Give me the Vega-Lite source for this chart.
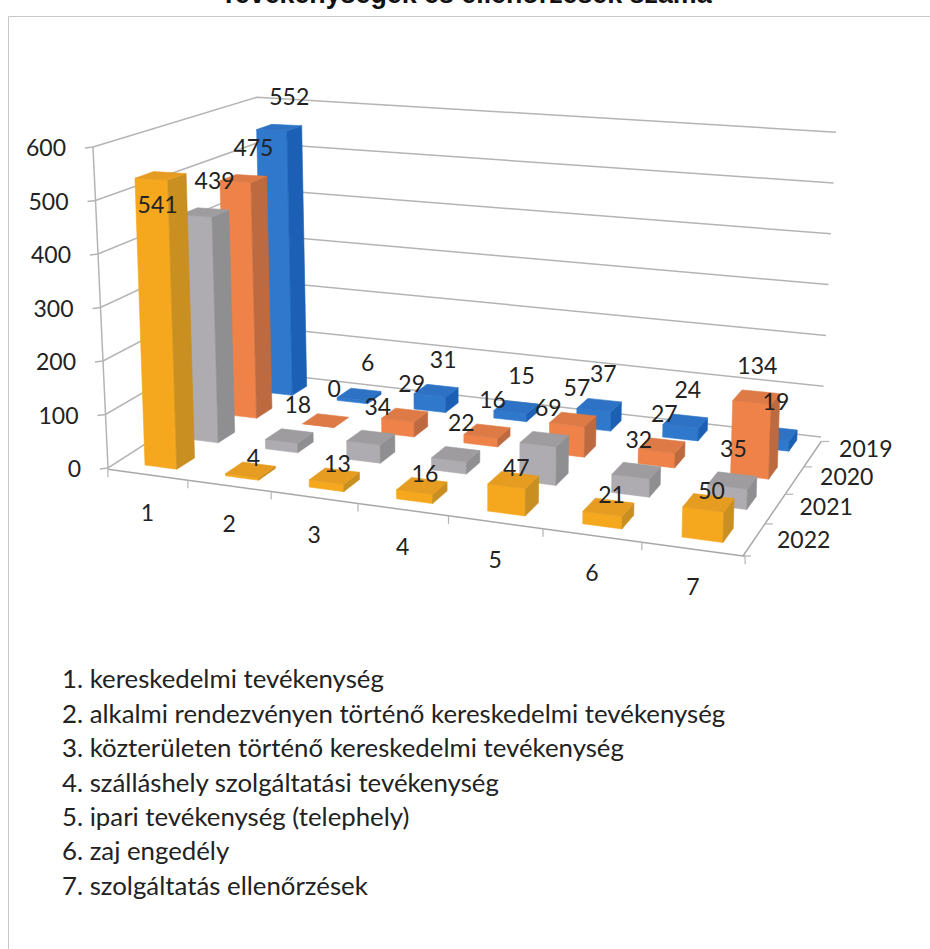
{
"$schema":"https://vega.github.io/schema/vega-lite/v6.json",
"width":922,"height":933,
"autosize":{"type":"none"},
"padding":{"left":8,"top":16,"right":0,"bottom":0},
"background":"white",
"view":{"stroke":"#c8c8c8","strokeWidth":1},
"title":{"text":"Tevékenységek és ellenőrzések száma","font":"Liberation Sans","fontSize":26.8,"fontWeight":"bold","color":"#111","anchor":"middle","baseline":"alphabetic","offset":-14,"dx":-3},
"datasets":{
"bars":[
{"category":1,"year":2019,"value":552},{"category":2,"year":2019,"value":6},{"category":3,"year":2019,"value":31},{"category":4,"year":2019,"value":15},{"category":5,"year":2019,"value":37},{"category":6,"year":2019,"value":24},{"category":7,"year":2019,"value":19},
{"category":1,"year":2020,"value":475},{"category":2,"year":2020,"value":0},{"category":3,"year":2020,"value":29},{"category":4,"year":2020,"value":16},{"category":5,"year":2020,"value":57},{"category":6,"year":2020,"value":27},{"category":7,"year":2020,"value":134},
{"category":1,"year":2021,"value":439},{"category":2,"year":2021,"value":18},{"category":3,"year":2021,"value":34},{"category":4,"year":2021,"value":22},{"category":5,"year":2021,"value":69},{"category":6,"year":2021,"value":32},{"category":7,"year":2021,"value":35},
{"category":1,"year":2022,"value":541},{"category":2,"year":2022,"value":4},{"category":3,"year":2022,"value":13},{"category":4,"year":2022,"value":16},{"category":5,"year":2022,"value":47},{"category":6,"year":2022,"value":21},{"category":7,"year":2022,"value":50}
],
"ticks":[{"v":0},{"v":100},{"v":200},{"v":300},{"v":400},{"v":500},{"v":600}],
"front":[{"k":0},{"k":1},{"k":2},{"k":3},{"k":4},{"k":5},{"k":6},{"k":7}],
"side":[{"k":0},{"k":1},{"k":2},{"k":3},{"k":4}],
"cats":[{"category":1},{"category":2},{"category":3},{"category":4},{"category":5},{"category":6},{"category":7}],
"years":[{"year":2019},{"year":2020},{"year":2021},{"year":2022}],
"notes":[
{"n":1,"t":"1. kereskedelmi tevékenység"},
{"n":2,"t":"2. alkalmi rendezvényen történő kereskedelmi tevékenység"},
{"n":3,"t":"3. közterületen történő kereskedelmi tevékenység"},
{"n":4,"t":"4. szálláshely szolgáltatási tevékenység"},
{"n":5,"t":"5. ipari tevékenység (telephely)"},
{"n":6,"t":"6. zaj engedély"},
{"n":7,"t":"7. szolgáltatás ellenőrzések"}
]},
"encoding":{
"x":{"field":"X","type":"quantitative","axis":null,"scale":{"domain":[8,930],"nice":false,"zero":false}},
"y":{"field":"Y","type":"quantitative","axis":null,"scale":{"domain":[949,16],"nice":false,"zero":false}}
},
"layer":[
{"data":{"name":"ticks"},
 "transform":[
 {"calculate":"[0,1,2,3]","as":"c"},{"flatten":["c"]},
 {"calculate":"datum.c==0?100-0.025*datum.v:datum.c==1?108-0.025*datum.v:datum.c==2?257:821+0.025*datum.v","as":"X"},
 {"calculate":"datum.c==0?469-0.535*datum.v:datum.c==1?468-0.535*datum.v:datum.c==2?372-0.458*datum.v:437-0.508*datum.v","as":"Y"}],
 "mark":{"type":"line","color":"#b4b4b4","strokeWidth":1.5},
 "encoding":{"detail":{"field":"v"},"order":{"field":"c"}}},
{"data":{"name":"ticks"},
 "transform":[{"calculate":"108-0.025*datum.v","as":"X"},{"calculate":"468-0.535*datum.v","as":"Y"}],
 "mark":{"type":"line","color":"#b4b4b4","strokeWidth":1.5},
 "encoding":{"order":{"field":"v"}}},
{"data":{"name":"front"},
 "transform":[
 {"calculate":"datum.k-0.33","as":"I"},
 {"calculate":"1-0.1185*datum.I/6+0.1151*(-0.25)/3","as":"w"},
 {"calculate":"(456.2*datum.I/6+148.3*(-0.25)/3+145)/datum.w","as":"X"},
 {"calculate":"(8.4*datum.I/6-27.9*(-0.25)/3+466)/datum.w","as":"Y"}],
 "mark":{"type":"line","color":"#a8a8a8","strokeWidth":1.5},
 "encoding":{"order":{"field":"k"}}},
{"data":{"name":"front"},
 "transform":[
 {"calculate":"datum.k-0.33","as":"I"},
 {"calculate":"1-0.1185*datum.I/6+0.1151*(-0.25)/3","as":"w"},
 {"calculate":"(456.2*datum.I/6+148.3*(-0.25)/3+145)/datum.w","as":"X"},
 {"calculate":"(8.4*datum.I/6-27.9*(-0.25)/3+466)/datum.w","as":"Y"},
 {"calculate":"datum.Y+8","as":"Y2"}],
 "mark":{"type":"rule","color":"#b4b4b4","strokeWidth":1.2},
 "encoding":{"y2":{"field":"Y2"}}},
{"data":{"name":"side"},
 "transform":[
 {"calculate":"-0.25+0.9375*datum.k","as":"D"},
 {"calculate":"1-0.1185*6.65/6+0.1151*datum.D/3","as":"w"},
 {"calculate":"(456.2*6.65/6+148.3*datum.D/3+145)/datum.w","as":"X"},
 {"calculate":"(8.4*6.65/6-27.9*datum.D/3+466)/datum.w","as":"Y"}],
 "mark":{"type":"line","color":"#a8a8a8","strokeWidth":1.5},
 "encoding":{"order":{"field":"k"}}},
{"data":{"name":"side"},
 "transform":[
 {"calculate":"-0.25+0.9375*datum.k","as":"D"},
 {"calculate":"1-0.1185*6.65/6+0.1151*datum.D/3","as":"w"},
 {"calculate":"(456.2*6.65/6+148.3*datum.D/3+145)/datum.w","as":"X"},
 {"calculate":"(8.4*6.65/6-27.9*datum.D/3+466)/datum.w","as":"Y"},
 {"calculate":"datum.X+8","as":"X2"}],
 "mark":{"type":"rule","color":"#b4b4b4","strokeWidth":1.2},
 "encoding":{"x2":{"field":"X2"}}},
{"data":{"name":"bars"},
 "transform":[
 {"calculate":"datum.category-1","as":"i"},
 {"calculate":"2022-datum.year","as":"d"},
 {"calculate":"[0,1,2]","as":"f"},{"flatten":["f"]},
 {"calculate":"[0,1,2,3]","as":"c"},{"flatten":["c"]},
 {"calculate":"datum.year+'-'+datum.f","as":"shade"},
 {"calculate":"datum.year*100+datum.category*10+datum.f","as":"poly"},
 {"calculate":"datum.i+0.4*(datum.f==1||datum.c==1||datum.c==2?1:0)","as":"I"},
 {"calculate":"datum.d+0.42*(datum.f==0?0:datum.f==1?(datum.c==1||datum.c==2?1:0):(datum.c>=2?1:0))","as":"D"},
 {"calculate":"datum.value*(datum.f==2||datum.c>=2?1:0)","as":"H"},
 {"calculate":"1-0.1185*datum.I/6+0.1151*datum.D/3","as":"w"},
 {"calculate":"(456.2*datum.I/6+148.3*datum.D/3+145)/datum.w","as":"X0"},
 {"calculate":"(8.4*datum.I/6-27.9*datum.D/3+465)/datum.w","as":"Y0"},
 {"calculate":"datum.X0+datum.H*0.000059*(datum.X0-460)","as":"X"},
 {"calculate":"datum.Y0-datum.H*0.53/datum.w","as":"Y"}],
 "mark":{"type":"line","interpolate":"linear-closed","strokeWidth":0.6,"strokeJoin":"round"},
 "encoding":{
  "detail":{"field":"poly"},
  "order":{"field":"c"},
  "fill":{"field":"shade","type":"nominal","legend":null,"scale":{"domain":["2019-0","2019-1","2019-2","2020-0","2020-1","2020-2","2021-0","2021-1","2021-2","2022-0","2022-1","2022-2"],"range":["#2f78cc","#1b60b4","#2d72c4","#ee8248","#bd6a40","#de7a45","#aeacb0","#8f8e90","#9e9c9e","#f5a81e","#c98f20","#e59c20"]}},
  "stroke":{"field":"shade","type":"nominal","legend":null,"scale":{"domain":["2019-0","2019-1","2019-2","2020-0","2020-1","2020-2","2021-0","2021-1","2021-2","2022-0","2022-1","2022-2"],"range":["#2f78cc","#1b60b4","#2d72c4","#ee8248","#bd6a40","#de7a45","#aeacb0","#8f8e90","#9e9c9e","#f5a81e","#c98f20","#e59c20"]}}
 }},
{"data":{"name":"bars"},
 "transform":[
 {"calculate":"datum.category-1+0.2","as":"I"},
 {"calculate":"2022-datum.year+0.21","as":"D"},
 {"calculate":"1-0.1185*datum.I/6+0.1151*datum.D/3","as":"w"},
 {"calculate":"(456.2*datum.I/6+148.3*datum.D/3+145)/datum.w","as":"X0"},
 {"calculate":"(8.4*datum.I/6-27.9*datum.D/3+465)/datum.w","as":"Y0"},
 {"calculate":"datum.X0+datum.value*0.000059*(datum.X0-460)+(datum.year==2022?(datum.category==1?-3:3):10-1.5*(datum.category-1))","as":"X"},
 {"calculate":"datum.Y0-datum.value*0.53/datum.w+(datum.year==2022?(datum.category==1?30:-11):-30)","as":"Y"}],
 "mark":{"type":"text","font":"Lato","fontSize":23,"color":"#222","align":"center","baseline":"middle"},
 "encoding":{"text":{"field":"value","type":"quantitative"}}},
{"data":{"name":"ticks"},
 "transform":[{"calculate":"81-0.025*datum.v","as":"X"},{"calculate":"470-0.535*datum.v","as":"Y"}],
 "mark":{"type":"text","font":"Lato","fontSize":23,"color":"#222","align":"right","baseline":"middle"},
 "encoding":{"text":{"field":"v","type":"quantitative"}}},
{"data":{"name":"cats"},
 "transform":[
 {"calculate":"datum.category-1+0.17","as":"I"},
 {"calculate":"1-0.1185*datum.I/6+0.1151*(-0.25)/3","as":"w"},
 {"calculate":"(456.2*datum.I/6+148.3*(-0.25)/3+145)/datum.w","as":"X"},
 {"calculate":"(8.4*datum.I/6-27.9*(-0.25)/3+465)/datum.w+40","as":"Y"}],
 "mark":{"type":"text","font":"Lato","fontSize":23,"color":"#222","align":"center","baseline":"middle"},
 "encoding":{"text":{"field":"category","type":"nominal"}}},
{"data":{"name":"years"},
 "transform":[
 {"calculate":"2022-datum.year+0.2","as":"D"},
 {"calculate":"1-0.1185*6.65/6+0.1151*datum.D/3","as":"w"},
 {"calculate":"(456.2*6.65/6+148.3*datum.D/3+145)/datum.w+50","as":"X"},
 {"calculate":"(8.4*6.65/6-27.9*datum.D/3+465)/datum.w+2","as":"Y"}],
 "mark":{"type":"text","font":"Lato","fontSize":23,"color":"#222","align":"center","baseline":"middle"},
 "encoding":{"text":{"field":"year","type":"nominal"}}},
{"data":{"name":"notes"},
 "transform":[{"calculate":"62","as":"X"},{"calculate":"646+34.4*datum.n","as":"Y"}],
 "mark":{"type":"text","font":"Lato","fontSize":25.8,"color":"#222","align":"left","baseline":"middle"},
 "encoding":{"text":{"field":"t","type":"nominal"}}}
],
"resolve":{"scale":{"fill":"independent","stroke":"independent"}},
"config":{"style":{"cell":{"stroke":"#c8c8c8"}}}
}
